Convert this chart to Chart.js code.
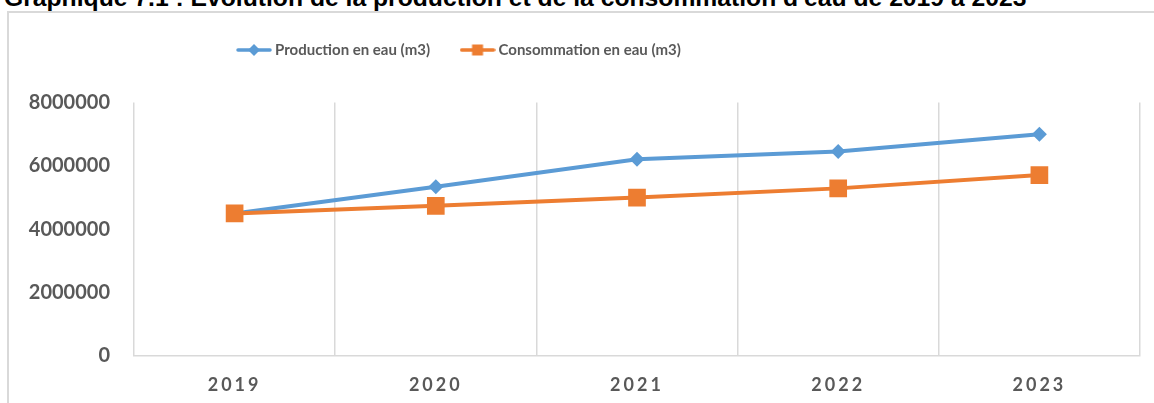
<!DOCTYPE html>
<html>
<head>
<meta charset="utf-8">
<script src="https://cdn.jsdelivr.net/npm/chart.js@4"></script>
<style>
  html, body { margin: 0; padding: 0; background: #fff; overflow: hidden; }
  #title {
    position: absolute; left: 4px; top: -16px; white-space: nowrap;
    font-family: "Liberation Sans", Arial, sans-serif; font-weight: bold; font-size: 24.7px;
    color: #000; line-height: 28px;
  }
  #frame {
    position: absolute; left: 7px; top: 11px; width: 1300px; height: 600px;
    border-left: 2px solid #d9d9d9; border-top: 2px solid #d9d9d9;
  }
  #wrap { position: absolute; left: 0; top: 0; width: 1154px; height: 403px; }
</style>
</head>
<body>
<div id="title">Graphique 7.1 : Evolution de la production et de la consommation d'eau de 2019 à 2023</div>
<div id="frame"></div>
<div id="wrap"><canvas id="lineChart"></canvas></div>
<script>
// data
const years = ['2019', '2020', '2021', '2022', '2023'];
const production = [4500000, 5340000, 6210000, 6450000, 7000000];
const consommation = [4500000, 4740000, 5000000, 5290000, 5710000];
const seriesNames = ['Production en eau (m3)', 'Consommation en eau (m3)'];
const yMin = 0;
const yMax = 8000000;
const yStep = 2000000;

const blue = '#5B9BD5';
const orange = '#ED7D31';
const grey = '#595959';
const gridGrey = '#d9d9d9';

//small canvas with line + marker, used as legend symbol (like excel)
function legendSymbol(color, shape) {
    const c = document.createElement('canvas');
    c.width = 36;
    c.height = 18;
    const ctx = c.getContext('2d');
    ctx.strokeStyle = color;
    ctx.fillStyle = color;
    ctx.lineWidth = 3.5;
    ctx.lineCap = 'round';
    ctx.beginPath();
    ctx.moveTo(2, 9);
    ctx.lineTo(34, 9);
    ctx.stroke();
    ctx.beginPath();
    if (shape === 'diamond') {
        ctx.moveTo(18, 3);
        ctx.lineTo(24, 9);
        ctx.lineTo(18, 15);
        ctx.lineTo(12, 9);
    } else {
        ctx.rect(12.5, 3.5, 11, 11);
    }
    ctx.fill();
    return c;
}
const symbols = [legendSymbol(blue, 'diamond'), legendSymbol(orange, 'square')];

//excel frame is wider than the crop, so the legend sits left of centre and lower than chart.js would put it
const legendPlacement = {
    id: 'legendPlacement',
    beforeInit(chart) {
        const fit = chart.legend.fit;
        chart.legend.fit = function () {
            fit.call(this);
            this.height += 35;
        };
    },
    afterLayout(chart) {
        chart.legend.left = 206.5;
    },
    afterUpdate(chart) {
        //letter spacing on the year labels
        const x = chart.scales.x;
        if (x && !x._spaced) {
            const draw = x.drawLabels;
            x.drawLabels = function (area) {
                this.ctx.save();
                this.ctx.letterSpacing = '3px';
                draw.call(this, area);
                this.ctx.restore();
            };
            x._spaced = true;
        }
    }
};

new Chart(document.getElementById('lineChart'), {
    type: 'line',
    data: {
        labels: years,
        datasets: [{
            label: seriesNames[0],
            data: production,
            borderColor: blue,
            backgroundColor: blue,
            borderWidth: 4,
            pointStyle: 'rectRot',
            pointRadius: 7.5,
            pointBorderWidth: 0,
            order: 1
        }, {
            label: seriesNames[1],
            data: consommation,
            borderColor: orange,
            backgroundColor: orange,
            borderWidth: 4,
            pointStyle: 'rect',
            pointRadius: 12.5,
            pointBorderWidth: 0,
            order: 0
        }]
    },
    options: {
        responsive: true,
        maintainAspectRatio: false,
        animation: false,
        layout: {
            padding: { top: 8.5, right: 14, bottom: 0, left: 0 }
        },
        scales: {
            x: {
                offset: true,
                grid: {
                    display: true,
                    offset: true,
                    color: gridGrey,
                    lineWidth: 1.5,
                    drawTicks: false
                },
                border: { display: true, color: gridGrey, width: 1.5 },
                ticks: {
                    color: grey,
                    padding: 18,
                    font: { family: 'Lato', weight: 'bold', size: 18 }
                },
                afterFit: (scale) => { scale.height = 47; }
            },
            y: {
                min: yMin,
                max: yMax,
                grid: { display: false, drawTicks: false },
                border: { display: false },
                ticks: {
                    stepSize: yStep,
                    color: grey,
                    padding: 24,
                    font: { family: 'Lato', weight: 'bold', size: 20 },
                    callback: (v) => String(v)
                },
                afterFit: (scale) => { scale.width = 134; }
            }
        },
        plugins: {
            title: { display: false },
            tooltip: { enabled: false },
            legend: {
                display: true,
                position: 'top',
                align: 'start',
                labels: {
                    color: grey,
                    font: { family: 'Lato', weight: 'bold', size: 15 },
                    usePointStyle: true,
                    pointStyleWidth: 27,
                    padding: 34,
                    generateLabels: (chart) => chart.data.datasets.map((ds, i) => ({
                        text: ds.label,
                        fillStyle: ds.borderColor,
                        strokeStyle: ds.borderColor,
                        lineWidth: 0,
                        pointStyle: symbols[i],
                        fontColor: grey,
                        hidden: false,
                        datasetIndex: i
                    }))
                }
            }
        }
    },
    plugins: [legendPlacement]
});
</script>
</body>
</html>
